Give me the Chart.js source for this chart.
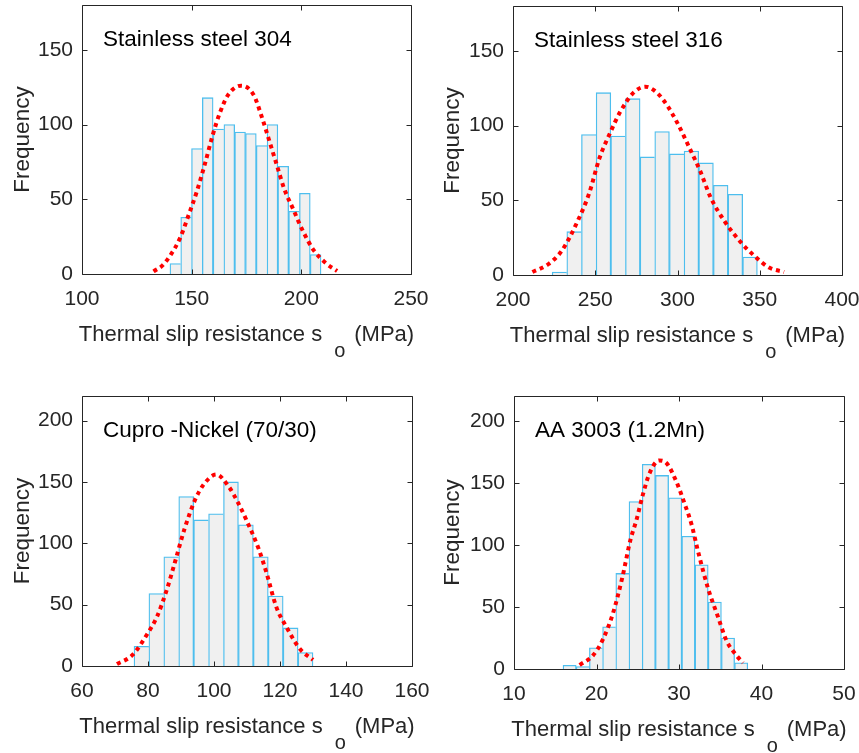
<!DOCTYPE html>
<html>
<head>
<meta charset="utf-8">
<script src="https://cdn.jsdelivr.net/npm/chart.js@4.4.1/dist/chart.umd.min.js"></script>
<style>
  body { margin: 0; background: #fff; }
  .panel { position: absolute; }
</style>
</head>
<body>
<canvas id="c1" class="panel" style="left:0;top:0"></canvas>
<canvas id="c2" class="panel" style="left:430px;top:0"></canvas>
<canvas id="c3" class="panel" style="left:0;top:376px"></canvas>
<canvas id="c4" class="panel" style="left:430px;top:376px"></canvas>
<script>
// histogram bin centres and counts, one set per alloy
const bins304 = [142.56, 147.48, 152.40, 157.32, 162.24, 167.16, 172.08, 177.00, 181.92, 186.84, 191.76, 196.68, 201.60, 206.52];
const counts304 = [7, 38, 84, 118, 97, 100, 95, 94, 86, 100, 72, 42, 54, 13];
const fitX304 = [132.6, 136.6, 140.5, 144.7, 148.5, 152.3, 156.1, 159.6, 162.9, 166.7, 172.5, 178.2, 182.0, 185.0, 188.8, 192.2, 196.4, 200.3, 205.6, 211.4, 216.3];
const fitY304 = [1.8, 5.6, 13, 24, 39, 55, 74, 93, 108, 120, 126, 120, 105, 91, 73, 57, 43, 30, 16, 7, 2];

const bins316 = [228.26, 237.17, 246.08, 254.99, 263.90, 272.81, 281.72, 290.63, 299.54, 308.45, 317.36, 326.27, 335.18, 344.09];
const counts316 = [2, 29, 94, 122, 93, 118, 79, 96, 81, 83, 75, 60, 54, 12];
const fitX316 = [211.8, 221.4, 229.5, 239.7, 246.4, 252.5, 259.0, 265.1, 273.3, 280.4, 287.5, 294.0, 299.8, 307.3, 314.0, 320.1, 329.2, 338.4, 346.5, 355.7, 364.8];
const fitY316 = [2, 7.2, 16, 37, 55, 78, 95, 109, 122, 126, 122, 113, 102, 85, 69, 52, 35, 22, 13, 5, 2];

const binsCuNi = [78.02, 82.54, 87.06, 91.58, 96.10, 100.62, 105.14, 109.66, 114.18, 118.70, 123.22, 127.74];
const countsCuNi = [16, 59, 89, 138, 119, 124, 150, 115, 89, 57, 31, 11];
const fitXCuNi = [70.6, 75.3, 80.0, 82.7, 85.8, 88.1, 91.1, 94.2, 96.9, 100.7, 104.5, 107.3, 109.8, 113.6, 115.9, 118.9, 121.9, 126.0, 130.0];
const fitYCuNi = [1.6, 9, 27, 40, 63, 84, 112, 135, 148, 156, 146, 133, 119, 95, 76, 48, 32, 14, 5];

const binsAA = [16.74, 18.34, 19.94, 21.54, 23.14, 24.74, 26.34, 27.94, 29.54, 31.14, 32.74, 34.34, 35.94, 37.54];
const countsAA = [3, 2, 17, 34, 77, 135, 165, 156, 138, 107, 84, 54, 25, 5];
const fitXAA = [17.96, 19.58, 20.79, 22.0, 23.14, 24.11, 24.84, 25.64, 26.45, 27.58, 28.47, 29.68, 30.69, 31.5, 32.3, 33.52, 34.73, 35.75, 36.96, 37.76];
const fitYAA = [3.2, 11, 24, 45, 74, 104, 120, 141, 158, 168, 166, 151, 133, 117, 95, 65, 42, 23, 11, 5];

const panelTitles = ["Stainless steel 304", "Stainless steel 316", "Cupro -Nickel (70/30)", "AA 3003 (1.2Mn)"];
const xTitleParts = ["Thermal slip resistance s", "o", "(MPa)"];
const yTitle = "Frequency";

const FONT = '"Liberation Sans", Arial, Helvetica, sans-serif';
const AXIS = "#262626";

// box around the axes, inward ticks on all four sides, panel caption, x label with subscript
const framePlugin = {
    id: "frame",
    afterDraw(chart, args, opts) {
        const ctx = chart.ctx;
        const a = chart.chartArea;
        const x = chart.scales.x, y = chart.scales.y;
        ctx.save();
        ctx.strokeStyle = AXIS;
        ctx.lineWidth = 1;
        const L = Math.round(a.left) + 0.5, R = Math.round(a.right) + 0.5;
        const T = Math.round(a.top) + 0.5, B = Math.round(a.bottom) + 0.5;
        ctx.beginPath();
        ctx.rect(L, T, R - L, B - T);
        x.ticks.forEach(t => {
            const px = Math.round(x.getPixelForValue(t.value)) + 0.5;
            ctx.moveTo(px, B); ctx.lineTo(px, B - 5);
            ctx.moveTo(px, T); ctx.lineTo(px, T + 5);
        });
        y.ticks.forEach(t => {
            const py = Math.round(y.getPixelForValue(t.value)) + 0.5;
            ctx.moveTo(L, py); ctx.lineTo(L + 5, py);
            ctx.moveTo(R, py); ctx.lineTo(R - 5, py);
        });
        ctx.stroke();

        ctx.fillStyle = "#000";
        ctx.textBaseline = "alphabetic";
        ctx.textAlign = "left";
        ctx.font = "22.5px " + FONT;
        ctx.fillText(opts.label, a.left + 21, a.top + 40.5);

        ctx.fillStyle = AXIS;
        ctx.font = "22px " + FONT;
        const w1 = ctx.measureText(xTitleParts[0]).width;
        const w3 = ctx.measureText(xTitleParts[2]).width;
        ctx.font = "20px " + FONT;
        const w2 = ctx.measureText(xTitleParts[1]).width;
        const g1 = 12, g2 = 9;
        let cx = (a.left + a.right) / 2 - (w1 + g1 + w2 + g2 + w3) / 2;
        const base = a.bottom + 67;
        ctx.font = "22px " + FONT;
        ctx.fillText(xTitleParts[0], cx, base);
        cx += w1 + g1;
        ctx.font = "20px " + FONT;
        ctx.fillText(xTitleParts[1], cx, base + 16);
        cx += w2 + g2;
        ctx.font = "22px " + FONT;
        ctx.fillText(xTitleParts[2], cx, base);
        ctx.restore();
    }
};

function drawPanel(id, w, h, area, bins, counts, fitX, fitY, xr, yMax, label) {
    const cv = document.getElementById(id);
    cv.width = w; cv.height = h;
    const last = counts.length - 1;
    new Chart(cv, {
        type: "bar",
        data: {
            datasets: [{
                type: "line",
                data: fitX.map((v, i) => ({ x: v, y: fitY[i] })),
                borderColor: "#ff0000",
                borderWidth: 4,
                borderDash: [4, 4],
                pointRadius: 0,
                tension: 0.4,
                cubicInterpolationMode: "monotone",
                order: 0
            }, {
                data: bins.map((v, i) => ({ x: v, y: counts[i] })),
                backgroundColor: "#f0f0f0",
                borderColor: "#4dbeee",
                borderWidth: c => ({
                    left: 1.3,
                    top: 1.3,
                    bottom: 0,
                    right: (c.dataIndex === last || counts[c.dataIndex + 1] < counts[c.dataIndex]) ? 1.3 : 0
                }),
                borderSkipped: false,
                barPercentage: 1,
                categoryPercentage: 1,
                order: 1
            }]
        },
        options: {
            responsive: false,
            animation: false,
            devicePixelRatio: 1,
            layout: { padding: { top: area.top, right: w - area.right, left: 0, bottom: 0 } },
            plugins: {
                legend: { display: false },
                tooltip: { enabled: false },
                frame: { label: label }
            },
            scales: {
                x: {
                    type: "linear",
                    offset: false,
                    min: xr[0], max: xr[1],
                    ticks: { stepSize: xr[2], padding: 13, color: AXIS, font: { family: FONT, size: 21 } },
                    grid: { display: false, drawTicks: false },
                    border: { display: false },
                    afterFit: s => { s.height = h - area.bottom; s.paddingLeft = 0; s.paddingRight = 0; }
                },
                y: {
                    min: 0, max: yMax,
                    ticks: { stepSize: 50, padding: 9, color: AXIS, font: { family: FONT, size: 21 } },
                    grid: { display: false, drawTicks: false },
                    border: { display: false },
                    title: { display: true, text: yTitle, color: AXIS, font: { family: FONT, size: 22.5 }, padding: { top: 9, bottom: 0 } },
                    afterBuildTicks: s => { s.ticks = s.ticks.filter(t => t.value % 50 === 0); },
                    afterFit: s => { s.width = area.left; s.paddingTop = 0; s.paddingBottom = 0; }
                }
            }
        },
        plugins: [framePlugin]
    });
}

drawPanel("c1", 430, 376, { left: 82, right: 411, top: 5, bottom: 274 }, bins304, counts304, fitX304, fitY304, [100, 250, 50], 180, panelTitles[0]);
drawPanel("c2", 429, 376, { left: 83, right: 412, top: 6, bottom: 275 }, bins316, counts316, fitX316, fitY316, [200, 400, 50], 180, panelTitles[1]);
drawPanel("c3", 430, 377, { left: 82, right: 412, top: 20, bottom: 290 }, binsCuNi, countsCuNi, fitXCuNi, fitYCuNi, [60, 160, 20], 220, panelTitles[2]);
drawPanel("c4", 429, 377, { left: 84, right: 414, top: 20, bottom: 293 }, binsAA, countsAA, fitXAA, fitYAA, [10, 50, 10], 220, panelTitles[3]);
</script>
</body>
</html>
